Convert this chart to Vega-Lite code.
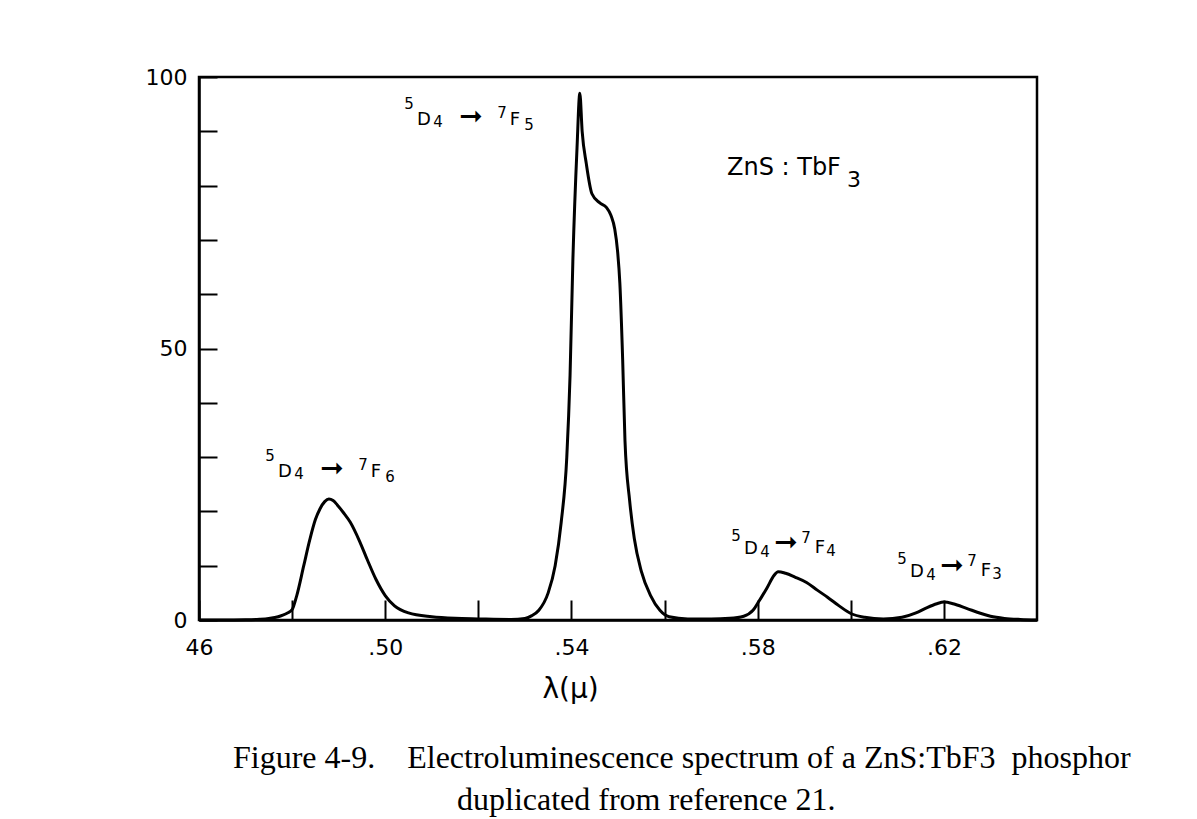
{
  "$schema": "https://vega.github.io/schema/vega-lite/v6.json",
  "width": 838,
  "height": 543,
  "autosize": {"type": "none"},
  "padding": {"left": 199, "top": 77, "right": 160, "bottom": 199},
  "background": "white",
  "config": {
    "view": {"stroke": "black", "strokeWidth": 2.5},
    "font": "DejaVu Sans"
  },
  "title": {
    "text": ["Figure 4-9.\u00a0\u00a0\u00a0 Electroluminescence spectrum of a ZnS:TbF3\u00a0 phosphor", "\u200b\u00a0\u00a0\u00a0\u00a0\u00a0\u00a0\u00a0\u00a0\u00a0\u00a0\u00a0\u00a0\u00a0\u00a0\u00a0\u00a0\u00a0\u00a0\u00a0\u00a0\u00a0\u00a0\u00a0\u00a0\u00a0\u00a0\u00a0\u00a0duplicated from reference 21."],
    "orient": "bottom",
    "anchor": "start",
    "align": "left",
    "frame": "group",
    "dx": 34,
    "offset": 40,
    "font": "Liberation Serif",
    "fontSize": 32,
    "fontWeight": "normal",
    "color": "black",
    "lineHeight": 42
  },
  "layer": [
    {
      "data": {"values": [
        {"lambda": 0.460, "intensity": 0},
        {"lambda": 0.465, "intensity": 0},
        {"lambda": 0.470, "intensity": 0.05},
        {"lambda": 0.473, "intensity": 0.15},
        {"lambda": 0.475, "intensity": 0.3},
        {"lambda": 0.477, "intensity": 0.6},
        {"lambda": 0.478, "intensity": 0.9},
        {"lambda": 0.479, "intensity": 1.3},
        {"lambda": 0.480, "intensity": 1.9},
        {"lambda": 0.481, "intensity": 4.5},
        {"lambda": 0.4825, "intensity": 10},
        {"lambda": 0.4838, "intensity": 14.8},
        {"lambda": 0.485, "intensity": 18.5},
        {"lambda": 0.486, "intensity": 20.5},
        {"lambda": 0.487, "intensity": 21.8},
        {"lambda": 0.4879, "intensity": 22.3},
        {"lambda": 0.4888, "intensity": 22},
        {"lambda": 0.4897, "intensity": 21.2},
        {"lambda": 0.491, "intensity": 19.8},
        {"lambda": 0.4925, "intensity": 18},
        {"lambda": 0.4945, "intensity": 14.5},
        {"lambda": 0.4962, "intensity": 11},
        {"lambda": 0.498, "intensity": 7.5},
        {"lambda": 0.500, "intensity": 4.5},
        {"lambda": 0.502, "intensity": 2.6},
        {"lambda": 0.505, "intensity": 1.3},
        {"lambda": 0.510, "intensity": 0.6},
        {"lambda": 0.515, "intensity": 0.3},
        {"lambda": 0.520, "intensity": 0.2},
        {"lambda": 0.527, "intensity": 0.1},
        {"lambda": 0.530, "intensity": 0.3},
        {"lambda": 0.5315, "intensity": 0.8},
        {"lambda": 0.533, "intensity": 1.8},
        {"lambda": 0.535, "intensity": 5},
        {"lambda": 0.5365, "intensity": 10},
        {"lambda": 0.5378, "intensity": 18},
        {"lambda": 0.539, "intensity": 30},
        {"lambda": 0.5397, "intensity": 45},
        {"lambda": 0.5403, "intensity": 66},
        {"lambda": 0.5412, "intensity": 87},
        {"lambda": 0.5418, "intensity": 97},
        {"lambda": 0.5423, "intensity": 90},
        {"lambda": 0.5432, "intensity": 84},
        {"lambda": 0.5444, "intensity": 78.5},
        {"lambda": 0.5461, "intensity": 76.8},
        {"lambda": 0.5475, "intensity": 76},
        {"lambda": 0.5485, "intensity": 74.5},
        {"lambda": 0.5493, "intensity": 72},
        {"lambda": 0.5499, "intensity": 68},
        {"lambda": 0.5504, "intensity": 62},
        {"lambda": 0.551, "intensity": 48},
        {"lambda": 0.5515, "intensity": 33},
        {"lambda": 0.5525, "intensity": 22},
        {"lambda": 0.5535, "intensity": 15},
        {"lambda": 0.555, "intensity": 9},
        {"lambda": 0.557, "intensity": 4.5},
        {"lambda": 0.559, "intensity": 1.8},
        {"lambda": 0.561, "intensity": 0.6},
        {"lambda": 0.565, "intensity": 0.2},
        {"lambda": 0.570, "intensity": 0.2},
        {"lambda": 0.574, "intensity": 0.3},
        {"lambda": 0.577, "intensity": 0.7},
        {"lambda": 0.579, "intensity": 1.8},
        {"lambda": 0.5803, "intensity": 3.5},
        {"lambda": 0.582, "intensity": 5.9},
        {"lambda": 0.5835, "intensity": 8.2},
        {"lambda": 0.5844, "intensity": 8.9},
        {"lambda": 0.586, "intensity": 8.6},
        {"lambda": 0.588, "intensity": 7.9},
        {"lambda": 0.5905, "intensity": 6.9},
        {"lambda": 0.5928, "intensity": 5.5},
        {"lambda": 0.595, "intensity": 4.2},
        {"lambda": 0.5975, "intensity": 2.6},
        {"lambda": 0.600, "intensity": 1.2},
        {"lambda": 0.603, "intensity": 0.5},
        {"lambda": 0.607, "intensity": 0.2},
        {"lambda": 0.611, "intensity": 0.5},
        {"lambda": 0.614, "intensity": 1.3},
        {"lambda": 0.6164, "intensity": 2.3},
        {"lambda": 0.6185, "intensity": 3.0},
        {"lambda": 0.620, "intensity": 3.3},
        {"lambda": 0.622, "intensity": 3.0},
        {"lambda": 0.625, "intensity": 2.1},
        {"lambda": 0.628, "intensity": 1.2},
        {"lambda": 0.630, "intensity": 0.7},
        {"lambda": 0.633, "intensity": 0.3},
        {"lambda": 0.6364, "intensity": 0.1},
        {"lambda": 0.640, "intensity": 0}
      ]},
      "mark": {"type": "line", "color": "black", "strokeWidth": 3, "interpolate": "monotone"},
      "encoding": {
        "x": {
          "field": "lambda", "type": "quantitative",
          "scale": {"domain": [0.46, 0.64], "nice": false, "zero": false},
          "axis": {
            "title": "λ(μ)",
            "values": [0.46, 0.48, 0.50, 0.52, 0.54, 0.56, 0.58, 0.60, 0.62],
            "labelExpr": "round(datum.value*100) % 4 == 2 ? (round(datum.value*100) == 46 ? '46' : '.' + round(datum.value*100)) : ''",
            "tickSize": -20,
            "tickWidth": 2,
            "tickColor": "black",
            "domainColor": "black",
            "domainWidth": 2.5,
            "grid": false,
            "labelFont": "DejaVu Sans",
            "labelFontSize": 22,
            "labelColor": "black",
            "labelPadding": 37,
            "labelFlush": false,
            "labelOverlap": false,
            "titleFont": "DejaVu Sans",
            "titleFontSize": 28,
            "titleFontWeight": "normal",
            "titleColor": "black",
            "titleX": 371,
            "titleY": 69,
            "titleBaseline": "middle"
          }
        },
        "y": {
          "field": "intensity", "type": "quantitative",
          "scale": {"domain": [0, 100], "nice": false},
          "axis": {
            "title": null,
            "values": [0, 10, 20, 30, 40, 50, 60, 70, 80, 90, 100],
            "labelExpr": "datum.value % 50 == 0 ? datum.label : ''",
            "tickSize": -18,
            "tickWidth": 2,
            "tickColor": "black",
            "domainColor": "black",
            "domainWidth": 2.5,
            "grid": false,
            "labelFont": "DejaVu Sans",
            "labelFontSize": 22,
            "labelColor": "black",
            "labelPadding": 30,
            "labelFlush": false,
            "labelOverlap": false
          }
        }
      }
    },
    {
      "data": {"name": "transitions", "values": [
        {"lambda": 0.48857, "intensity": 27.8, "s1": "5", "m1": "D", "b1": "4", "arrow": "➞", "s2": "7", "m2": "F", "b2": "6"},
        {"lambda": 0.51842, "intensity": 92.6, "s1": "5", "m1": "D", "b1": "4", "arrow": "➞", "s2": "7", "m2": "F", "b2": "5"},
        {"lambda": 0.58608, "intensity": 14.1, "s1": "5", "m1": "D", "b1": "4", "arrow": "➞", "s2": "7", "m2": "F", "b2": "4"},
        {"lambda": 0.62174, "intensity": 10.0, "s1": "5", "m1": "D", "b1": "4", "arrow": "➞", "s2": "7", "m2": "F", "b2": "3"}
      ]},
      "encoding": {
        "x": {"field": "lambda", "type": "quantitative"},
        "y": {"field": "intensity", "type": "quantitative"}
      },
      "layer": [
        {"mark": {"type": "text", "font": "DejaVu Sans", "fontSize": 28, "color": "black", "align": "center", "baseline": "middle", "dy": 0},
         "encoding": {"text": {"field": "arrow"}}},
        {"mark": {"type": "text", "font": "DejaVu Sans", "fontSize": 15, "color": "black", "align": "center", "baseline": "middle",
                  "dx": {"expr": "datum.intensity > 20 ? -62 : -50"}, "dy": {"expr": "datum.intensity > 20 ? -13 : -7"}},
         "encoding": {"text": {"field": "s1"}}},
        {"mark": {"type": "text", "font": "DejaVu Sans", "fontSize": 18, "color": "black", "align": "center", "baseline": "middle",
                  "dx": {"expr": "datum.intensity > 20 ? -47 : -35"}, "dy": {"expr": "datum.intensity > 20 ? 3 : 6"}},
         "encoding": {"text": {"field": "m1"}}},
        {"mark": {"type": "text", "font": "DejaVu Sans", "fontSize": 15, "color": "black", "align": "center", "baseline": "middle",
                  "dx": {"expr": "datum.intensity > 20 ? -33 : -21"}, "dy": {"expr": "datum.intensity > 20 ? 5 : 9"}},
         "encoding": {"text": {"field": "b1"}}},
        {"mark": {"type": "text", "font": "DejaVu Sans", "fontSize": 15, "color": "black", "align": "center", "baseline": "middle",
                  "dx": {"expr": "datum.intensity > 20 ? 31 : 20"}, "dy": {"expr": "datum.intensity > 20 ? -4 : -5"}},
         "encoding": {"text": {"field": "s2"}}},
        {"mark": {"type": "text", "font": "DejaVu Sans", "fontSize": 18, "color": "black", "align": "center", "baseline": "middle",
                  "dx": {"expr": "datum.intensity > 20 ? 44 : 34"}, "dy": {"expr": "datum.intensity > 20 ? 3 : 5"}},
         "encoding": {"text": {"field": "m2"}}},
        {"mark": {"type": "text", "font": "DejaVu Sans", "fontSize": 15, "color": "black", "align": "center", "baseline": "middle",
                  "dx": {"expr": "datum.intensity > 20 ? 58 : 45"}, "dy": {"expr": "datum.intensity > 20 ? 8 : 8"}},
         "encoding": {"text": {"field": "b2"}}}
      ]
    },
    {
      "data": {"values": [
        {"lambda": 0.57341, "intensity": 83.3, "main": "ZnS : TbF", "sub": "3"}
      ]},
      "encoding": {
        "x": {"field": "lambda", "type": "quantitative"},
        "y": {"field": "intensity", "type": "quantitative"}
      },
      "layer": [
        {"mark": {"type": "text", "font": "DejaVu Sans", "fontSize": 24, "color": "black", "align": "left", "baseline": "middle"},
         "encoding": {"text": {"field": "main"}}},
        {"mark": {"type": "text", "font": "DejaVu Sans", "fontSize": 22, "color": "black", "align": "left", "baseline": "middle", "dx": 120, "dy": 12},
         "encoding": {"text": {"field": "sub"}}}
      ]
    }
  ]
}
